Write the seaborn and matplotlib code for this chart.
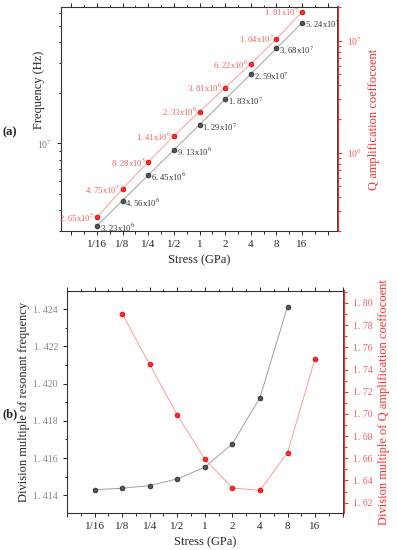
import numpy as np
import pandas as pd
import matplotlib
matplotlib.use("Agg")
import matplotlib.pyplot as plt
import matplotlib.ticker as mticker
import seaborn as sns

# ---------------- data ----------------
stress_labels = ["1/16", "1/8", "1/4", "1/2", "1", "2", "4", "8", "16"]

# (a) absolute values
freq_hz = [3.23e6, 4.56e6, 6.45e6, 9.13e6, 1.29e7, 1.83e7, 2.59e7, 3.68e7, 5.24e7]
q_coef = [2.65e5, 4.75e5, 8.28e5, 1.41e6, 2.33e6, 3.81e6, 6.22e6, 1.04e7, 1.81e7]
freq_text = ["3. 23x10$^{6}$", "4. 56x10$^{6}$", "6. 45x10$^{6}$", "9. 13x10$^{6}$",
             "1. 29x10$^{7}$", "1. 83x10$^{7}$", "2. 59x10$^{7}$", "3. 68x10$^{7}$",
             "5. 24x10$^{7}$"]
q_text = ["2. 65x10$^{5}$", "4. 75x10$^{5}$", "8. 28x10$^{5}$", "1. 41x10$^{6}$",
          "2. 33x10$^{6}$", "3. 81x10$^{6}$", "6. 22x10$^{6}$", "1. 04x10$^{7}$",
          "1. 81x10$^{7}$"]

# (b) division multiples between neighbouring stress levels
freq_div_labels = ["1/16", "1/8", "1/4", "1/2", "1", "2", "4", "8"]
freq_div = [1.4143, 1.41438, 1.41452, 1.41488, 1.41551, 1.41677, 1.41925, 1.42414]
q_div_labels = ["1/8", "1/4", "1/2", "1", "2", "4", "8", "16"]
q_div = [1.7904, 1.7447, 1.699, 1.6593, 1.6332, 1.6311, 1.665, 1.7498]

# ---------------- style ----------------
sns.set_theme(style="ticks")
plt.rcParams["font.family"] = ["Liberation Serif", "DejaVu Serif"]
plt.rcParams["mathtext.fontset"] = "stix"

RED = "#ff2a2a"
RED_LINE = "#ff9a9a"
RED_TXT = "#f06060"
GREY_LINE = "#a0a0a0"

pos = {s: i for i, s in enumerate(stress_labels)}
df_a = pd.DataFrame({"stress": stress_labels, "freq": freq_hz, "q": q_coef})
df_a["x"] = df_a["stress"].map(pos)
df_f = pd.DataFrame({"stress": freq_div_labels, "val": freq_div})
df_f["x"] = df_f["stress"].map(pos)
df_q = pd.DataFrame({"stress": q_div_labels, "val": q_div})
df_q["x"] = df_q["stress"].map(pos)

fig = plt.figure(figsize=(3.97, 5.5), dpi=100)
ax_a = fig.add_axes([0.1537, 0.58, 0.6977, 0.4073])
ax_b = fig.add_axes([0.1688, 0.0673, 0.6977, 0.4036])


def style_x(ax, xlim):
    ax.set_xlim(*xlim)
    ax.set_xticks(np.arange(-1, 10))
    ax.set_xticklabels([""] + stress_labels + [""], fontsize=8)
    ax.xaxis.set_minor_locator(mticker.MultipleLocator(0.5))
    ax.tick_params(axis="x", which="both", direction="out", top=True, length=3, width=0.7)
    ax.tick_params(axis="x", which="minor", length=1.8)
    ax.set_xlabel("Stress (GPa)", fontsize=9)
    for sp in ["left", "bottom", "top"]:
        ax.spines[sp].set_linewidth(0.8)
        ax.spines[sp].set_color("#333333")


def draw(ax, df, y, line_c, face_c, edge_c):
    sns.lineplot(data=df, x="x", y=y, ax=ax, color=line_c, linewidth=0.7, zorder=2)
    sns.scatterplot(data=df, x="x", y=y, ax=ax, color=face_c, edgecolor=edge_c,
                    s=12, linewidth=0.5, zorder=3)


# ---------------- panel (a) ----------------
ax_a2 = ax_a.twinx()
ax_a.set_yscale("log")
ax_a2.set_yscale("log")
draw(ax_a, df_a, "freq", GREY_LINE, "#555555", "#222222")
draw(ax_a2, df_a, "q", RED_LINE, RED, "#cc0000")
ax_a.set_ylim(3.0e6, 6.5e7)
ax_a2.set_ylim(2.0e5, 2.0e7)
style_x(ax_a, (-1.4, 9.4))

for xi, v, t in zip(df_a["x"], freq_hz, freq_text):
    ax_a.annotate(t, (xi, v), xytext=(2, -1.5), textcoords="offset points",
                  fontsize=6.2, color="#333333", ha="left", va="center")
for xi, v, t in zip(df_a["x"], q_coef, q_text):
    ax_a2.annotate(t, (xi, v), xytext=(-2, -0.5), textcoords="offset points",
                   fontsize=6.2, color=RED_TXT, ha="right", va="center")

ax_a.set_ylabel("Frequency (Hz)", fontsize=9)
ax_a.yaxis.set_label_coords(-0.058, 0.63)
ax_a2.set_ylabel("Q amplification coeffocoent", fontsize=9, color=RED, labelpad=4)
ax_a.tick_params(axis="y", which="both", direction="out", labelsize=7,
                 labelcolor="#777777", length=3, width=0.7)
ax_a.tick_params(axis="y", which="minor", length=1.8)
ax_a2.tick_params(axis="y", which="both", direction="out", labelsize=7,
                  colors=RED, length=3, width=0.7)
ax_a2.tick_params(axis="y", which="minor", length=1.8)
ax_a2.tick_params(axis="y", labelcolor=RED_TXT)
ax_a2.spines["right"].set_color(RED)
ax_a2.spines["right"].set_linewidth(0.8)
ax_a.yaxis.set_minor_formatter(mticker.NullFormatter())
ax_a2.yaxis.set_minor_formatter(mticker.NullFormatter())
ax_a2.set_xlabel("")

# ---------------- panel (b) ----------------
ax_b2 = ax_b.twinx()
draw(ax_b, df_f, "val", GREY_LINE, "#555555", "#222222")
draw(ax_b2, df_q, "val", RED_LINE, RED, "#cc0000")
ax_b.set_ylim(1.41305, 1.42498)
ax_b2.set_ylim(1.6107, 1.8108)
style_x(ax_b, (-1.0, 9.05))

ax_b.yaxis.set_major_locator(mticker.MultipleLocator(0.002))
ax_b.yaxis.set_minor_locator(mticker.MultipleLocator(0.001))
ax_b.yaxis.set_major_formatter(mticker.FuncFormatter(lambda v, p: f"{v:.3f}".replace(".", ". ")))
ax_b2.yaxis.set_major_locator(mticker.MultipleLocator(0.02))
ax_b2.yaxis.set_minor_locator(mticker.MultipleLocator(0.01))
ax_b2.yaxis.set_major_formatter(mticker.FuncFormatter(lambda v, p: f"{v:.2f}".replace(".", ". ")))

ax_b.set_ylabel("Division multiple of resonant frequency", fontsize=9)
ax_b.yaxis.set_label_coords(-0.134, 0.5)
ax_b2.set_ylabel("Division multiple of Q amplification coeffocoent", fontsize=9,
                 color=RED, labelpad=4)
ax_b.tick_params(axis="y", which="both", direction="out", labelsize=7,
                 labelcolor="#888888", length=3, width=0.7)
ax_b.tick_params(axis="y", which="minor", length=1.8)
ax_b2.tick_params(axis="y", which="both", direction="out", labelsize=7,
                  colors=RED, length=3, width=0.7)
ax_b2.tick_params(axis="y", which="minor", length=1.8)
ax_b2.tick_params(axis="y", labelcolor=RED_TXT)
ax_b2.spines["right"].set_color(RED)
ax_b2.spines["right"].set_linewidth(0.8)
ax_b2.set_xlabel("")

for a in (ax_a2, ax_b2):
    a.spines["top"].set_visible(False)
    a.spines["left"].set_visible(False)
    a.spines["bottom"].set_visible(False)

fig.text(10 / 397, 1 - 132 / 550, "(a)", fontsize=9, fontweight="bold", ha="center", va="center")
fig.text(10 / 397, 1 - 414 / 550, "(b)", fontsize=9, fontweight="bold", ha="center", va="center")

fig.savefig("out.png", dpi=100)
